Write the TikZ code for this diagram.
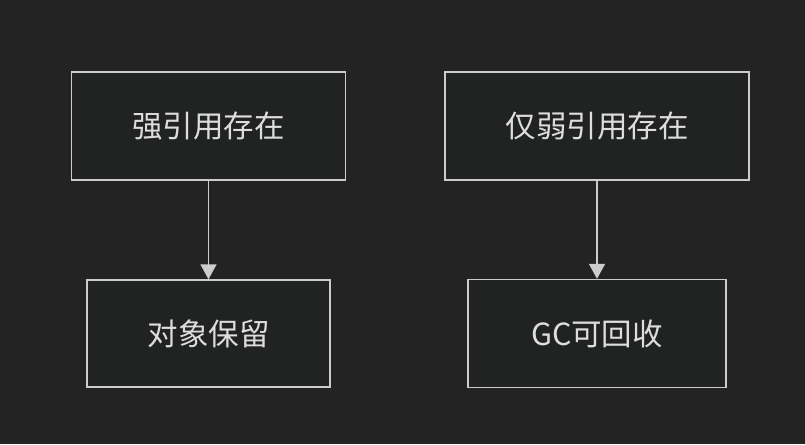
\documentclass[tikz,border=0pt]{standalone}
\usepackage{fontspec}
\setmainfont{Noto Sans CJK SC}
\usetikzlibrary{arrows.meta}
\definecolor{bgcol}{HTML}{232323}
\definecolor{boxcol}{HTML}{212322}
\definecolor{linecol}{HTML}{CCCCCC}
\definecolor{textcol}{HTML}{DDDDDD}
\tikzset{
    box/.style={draw=linecol, fill=boxcol, line width=1.3pt, text=textcol,
        font=\fontsize{30.5}{36}\selectfont, inner sep=0pt, anchor=center},
    flow/.style={draw=linecol, line width=1.3pt, -{Triangle[length=15pt,width=16pt]}}
}
\begin{document}
\begin{tikzpicture}[x=1pt,y=-1pt]
            \fill[bgcol] (0,0) rectangle (805,444);
            \useasboundingbox (0,0) rectangle (805,444);
            \node[box, minimum width=274pt, minimum height=108pt] at (208.5,126) (strong) {强引用存在};
            \node[box, minimum width=304pt, minimum height=108pt] at (597,126) (weak) {仅弱引用存在};
            \node[box, minimum width=243pt, minimum height=107pt] at (208.5,333.5) (kept) {对象保留};
            \node[box, minimum width=258pt, minimum height=108pt] at (597,333.5) (gc) {GC可回收};
            \draw[flow] (strong) -- (kept);
            \draw[flow] (weak) -- (gc);
        \end{tikzpicture}
\end{document}
